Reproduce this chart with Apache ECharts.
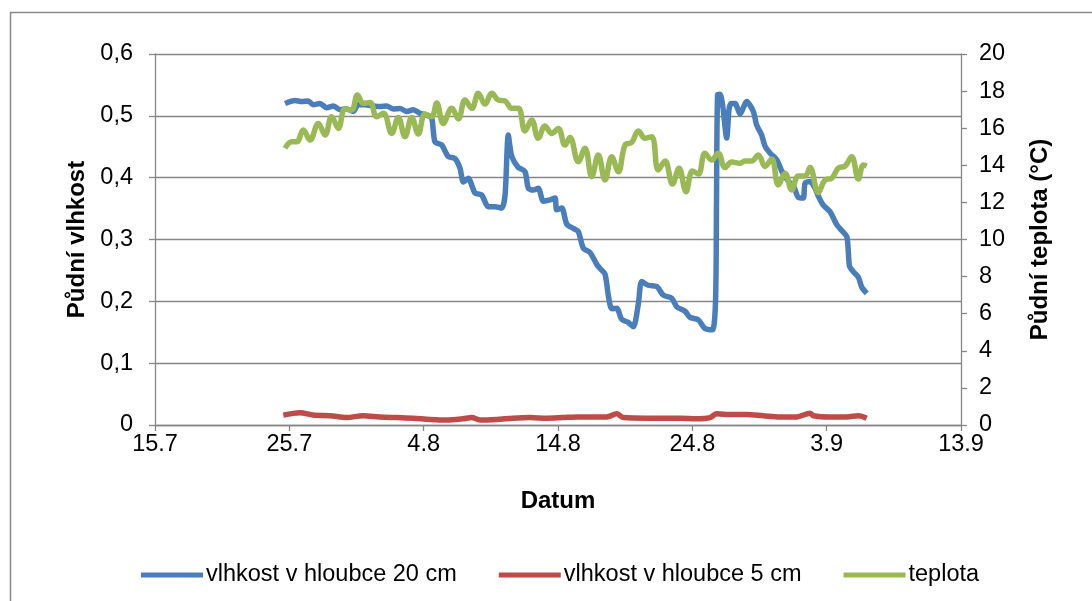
<!DOCTYPE html>
<html>
<head>
<meta charset="utf-8">
<script src="https://cdn.jsdelivr.net/npm/echarts@6/dist/echarts.min.js"></script>
<style>
  html, body { margin: 0; padding: 0; background: #fff; }
  #chart { width: 1092px; height: 601px; }
</style>
</head>
<body>
<div id="chart"></div>
<script>
// Days counted from 15.7 (day 0); x axis spans 15.7 – 13.9
const tickLabels = ['15.7', '25.7', '4.8', '14.8', '24.8', '3.9', '13.9'];
const seriesNames = ['vlhkost v hloubce 20 cm', 'vlhkost v hloubce 5 cm', 'teplota'];

// Soil moisture at 20 cm depth
const dny20 = [9.68, 10.42, 10.92, 11.41, 11.78, 12.28, 12.78, 13.27, 13.77, 14.27, 14.76, 15.13, 15.63, 16.25, 16.75, 17.25, 17.74, 18.24, 18.74, 19.23, 19.73, 20.23, 20.60, 20.84, 21.34, 21.83, 22.33, 22.71, 22.95, 23.32, 23.82, 24.32, 24.81, 25.31, 25.81, 26.06, 26.30, 26.55, 27.02, 27.54, 27.79, 28.16, 28.53, 28.91, 29.41, 29.78, 29.90, 30.28, 30.65, 31.14, 31.51, 31.88, 32.38, 32.88, 33.13, 33.50, 33.75, 34.00, 34.37, 34.74, 35.23, 35.61, 35.98, 36.23, 36.72, 37.35, 37.84, 38.47, 38.84, 39.46, 39.83, 40.45, 40.94, 41.50, 41.73, 41.80, 41.88, 42.06, 42.25, 42.56, 42.73, 42.88, 43.18, 43.55, 44.05, 44.54, 44.79, 45.16, 45.41, 45.78, 46.28, 46.65, 47.09, 47.57, 47.89, 48.26, 48.39, 48.76, 49.13, 49.38, 49.73, 50.25, 50.75, 51.14, 51.51, 51.70, 51.98, 52.36, 52.61, 52.98];
const vlhkost20 = [0.520, 0.525, 0.523, 0.524, 0.518, 0.520, 0.513, 0.516, 0.510, 0.511, 0.507, 0.518, 0.518, 0.516, 0.515, 0.516, 0.511, 0.512, 0.507, 0.510, 0.504, 0.501, 0.496, 0.458, 0.453, 0.434, 0.431, 0.415, 0.393, 0.399, 0.375, 0.372, 0.353, 0.353, 0.351, 0.372, 0.469, 0.435, 0.417, 0.410, 0.383, 0.380, 0.383, 0.362, 0.364, 0.367, 0.348, 0.351, 0.325, 0.318, 0.313, 0.286, 0.279, 0.260, 0.253, 0.244, 0.209, 0.188, 0.189, 0.171, 0.166, 0.159, 0.196, 0.232, 0.226, 0.224, 0.210, 0.205, 0.191, 0.184, 0.174, 0.170, 0.156, 0.154, 0.202, 0.364, 0.534, 0.535, 0.518, 0.464, 0.510, 0.520, 0.520, 0.503, 0.523, 0.507, 0.485, 0.469, 0.451, 0.440, 0.429, 0.411, 0.396, 0.384, 0.368, 0.367, 0.391, 0.394, 0.383, 0.370, 0.356, 0.345, 0.324, 0.314, 0.304, 0.257, 0.248, 0.239, 0.223, 0.213];

// Soil moisture at 5 cm depth
const dny5 = [9.55, 10.79, 11.76, 13.03, 14.27, 15.48, 16.75, 17.99, 19.21, 20.47, 21.72, 22.93, 23.58, 24.19, 25.44, 26.65, 27.92, 29.16, 30.37, 31.49, 32.88, 33.63, 34.37, 34.86, 36.60, 39.08, 40.33, 41.32, 41.81, 42.81, 44.05, 45.28, 46.53, 47.77, 48.76, 49.01, 50.25, 51.49, 52.36, 52.98];
const vlhkost5 = [0.016, 0.020, 0.016, 0.015, 0.012, 0.015, 0.013, 0.012, 0.011, 0.009, 0.008, 0.010, 0.012, 0.008, 0.009, 0.011, 0.012, 0.011, 0.012, 0.013, 0.013, 0.013, 0.018, 0.012, 0.011, 0.011, 0.010, 0.012, 0.018, 0.017, 0.017, 0.015, 0.013, 0.013, 0.019, 0.015, 0.013, 0.013, 0.015, 0.011];

// Soil temperature (°C)
const dnyT = [9.68, 10.18, 10.55, 11.04, 11.54, 12.16, 12.66, 13.15, 13.65, 14.14, 14.64, 15.07, 15.51, 16.01, 16.50, 17.00, 17.62, 18.11, 18.61, 19.11, 19.60, 20.10, 20.60, 20.97, 21.46, 22.09, 22.58, 23.08, 23.58, 24.07, 24.57, 25.07, 25.56, 26.06, 26.55, 27.05, 27.54, 28.04, 28.53, 29.03, 29.53, 30.02, 30.52, 30.89, 31.51, 32.01, 32.51, 33.00, 33.50, 34.00, 34.49, 34.99, 35.49, 35.98, 36.48, 36.98, 37.47, 37.97, 38.52, 39.01, 39.53, 40.01, 40.45, 40.94, 41.44, 41.93, 42.43, 42.93, 43.55, 43.92, 44.42, 44.91, 45.41, 45.91, 46.40, 46.90, 47.40, 47.89, 48.39, 48.76, 49.38, 49.88, 50.38, 50.87, 51.37, 51.86, 52.36, 52.73, 52.98];
const teplota = [14.92, 15.27, 15.27, 15.90, 15.36, 16.26, 15.63, 16.62, 15.99, 17.04, 16.98, 17.79, 17.34, 17.39, 16.62, 16.80, 15.72, 16.58, 15.54, 16.58, 15.69, 16.77, 16.62, 17.36, 16.26, 17.07, 16.50, 17.52, 17.07, 17.88, 17.30, 17.88, 17.52, 17.47, 17.07, 17.07, 15.85, 16.44, 15.46, 16.12, 15.72, 15.99, 15.09, 15.50, 14.19, 14.92, 13.39, 14.56, 13.21, 14.46, 13.65, 15.09, 15.23, 15.85, 15.46, 15.54, 13.75, 14.23, 12.99, 13.84, 12.58, 13.69, 13.53, 14.65, 14.29, 14.65, 13.88, 14.18, 14.11, 14.23, 14.23, 14.56, 13.94, 14.34, 12.94, 13.57, 12.67, 13.42, 13.42, 13.88, 12.53, 13.21, 13.30, 13.85, 13.96, 14.46, 13.26, 14.02, 13.96];

const pair = (xs, ys) => xs.map((x, i) => [x, ys[i]]);

const font = "'Liberation Sans', Arial, sans-serif";
const axisGray = '#868686';
const labelSize = 23.5;
const titleSize = 24;

const chart = echarts.init(document.getElementById('chart'), null, { renderer: 'canvas' });

chart.setOption({
  animation: false,
  backgroundColor: '#ffffff',
  color: ['#4A7EBB', '#BE4B48', '#98B954'],
  graphic: [{
    type: 'rect',
    shape: { x: 10.5, y: 12.5, width: 1100, height: 620 },
    style: { fill: 'none', stroke: '#8a8a8a', lineWidth: 1.5 },
    silent: true, z: -1
  }],
  grid: { left: 155, right: 131, top: 54, bottom: 176, containLabel: false },
  legend: {
    left: 136, top: 558,
    itemWidth: 62, itemHeight: 5, itemGap: 42,
    icon: 'rect',
    textStyle: { fontFamily: font, fontSize: labelSize, color: '#000', padding: [0, 0, 0, -2] },
    data: seriesNames
  },
  xAxis: {
    type: 'value', min: 0, max: 60, interval: 10,
    name: 'Datum', nameLocation: 'middle', nameGap: 64,
    nameTextStyle: { fontFamily: font, fontSize: titleSize, fontWeight: 'bold', color: '#000' },
    axisLine: { onZero: false, lineStyle: { color: axisGray, width: 1.3 } },
    axisTick: { show: true, length: 6, lineStyle: { color: axisGray, width: 1.3 } },
    axisLabel: {
      fontFamily: font, fontSize: labelSize, color: '#000', margin: 8,
      formatter: v => tickLabels[Math.round(v / 10)] || ''
    },
    splitLine: { show: false }
  },
  yAxis: [{
    type: 'value', min: 0, max: 0.6, interval: 0.1, position: 'left',
    name: 'Půdní vlhkost', nameLocation: 'middle', nameGap: 66, nameRotate: 90,
    nameTextStyle: { fontFamily: font, fontSize: titleSize, fontWeight: 'bold', color: '#000' },
    axisLine: { show: true, lineStyle: { color: axisGray, width: 1.3 } },
    axisTick: { show: true, length: 6, lineStyle: { color: axisGray, width: 1.3 } },
    axisLabel: {
      fontFamily: font, fontSize: labelSize, color: '#000', margin: 22,
      formatter: v => (Math.round(v * 10) / 10).toString().replace('.', ',')
    },
    splitLine: { show: true, lineStyle: { color: axisGray, width: 1.3 } }
  }, {
    type: 'value', min: 0, max: 20, interval: 2, position: 'right',
    name: 'Půdní teplota (°C)', nameLocation: 'middle', nameGap: 67, nameRotate: 90,
    nameTextStyle: { fontFamily: font, fontSize: titleSize, fontWeight: 'bold', color: '#000' },
    axisLine: { show: true, lineStyle: { color: axisGray, width: 1.3 } },
    axisTick: { show: true, length: 6, lineStyle: { color: axisGray, width: 1.3 } },
    axisLabel: { fontFamily: font, fontSize: labelSize, color: '#000', margin: 18 },
    splitLine: { show: false }
  }],
  series: [{
    name: seriesNames[0], type: 'line', yAxisIndex: 0,
    data: pair(dny20, vlhkost20), showSymbol: false, smooth: 0.25,
    lineStyle: { width: 5.5 }, z: 3
  }, {
    name: seriesNames[1], type: 'line', yAxisIndex: 0,
    data: pair(dny5, vlhkost5), showSymbol: false, smooth: 0.3,
    lineStyle: { width: 5.5 }, z: 2
  }, {
    name: seriesNames[2], type: 'line', yAxisIndex: 1,
    data: pair(dnyT, teplota), showSymbol: false, smooth: 0.4,
    lineStyle: { width: 5.5 }, z: 4
  }]
});
</script>
</body>
</html>
